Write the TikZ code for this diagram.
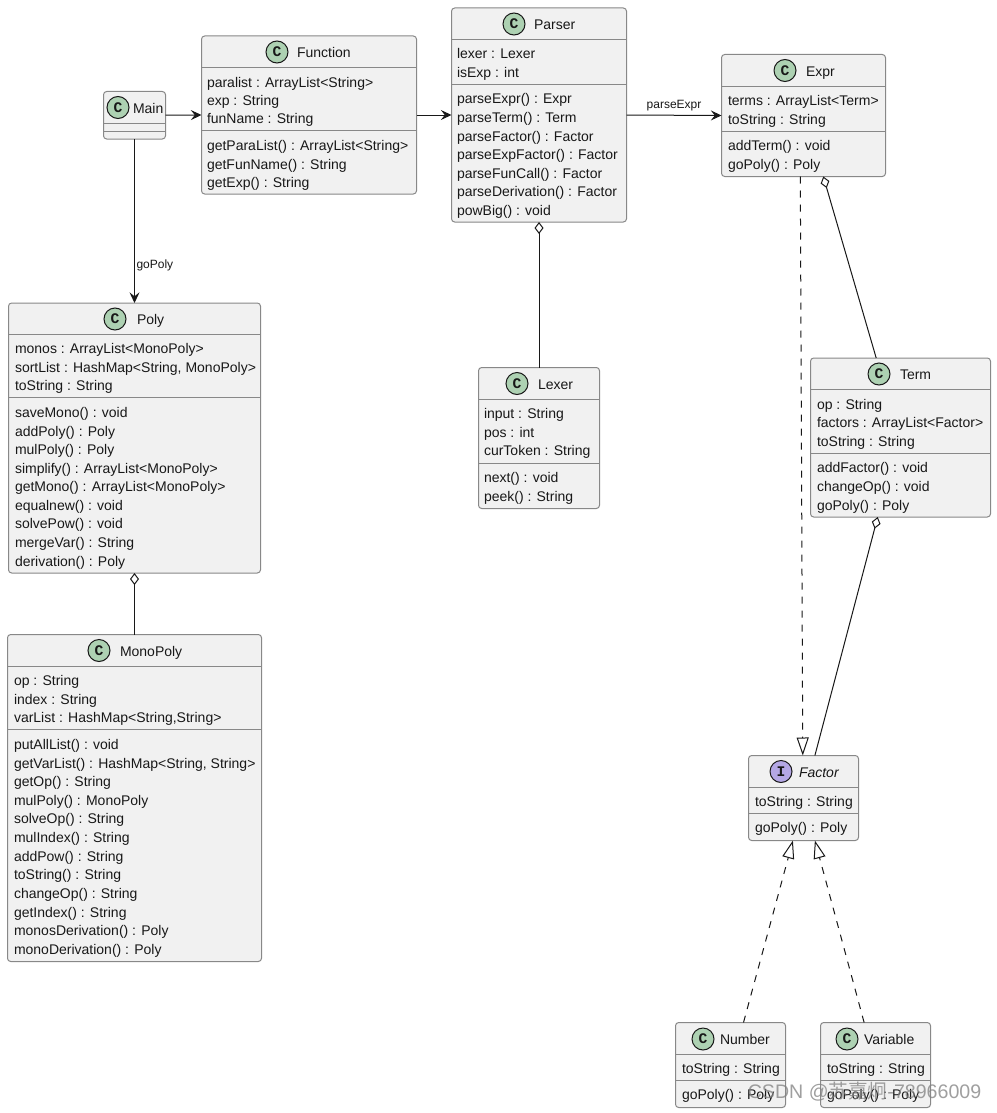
\documentclass[tikz,border=0pt]{standalone}
\usepackage{fontspec}
\setmainfont{Liberation Sans}
\newfontfamily\cjkwm{Noto Sans CJK SC}
\newfontfamily\glyphfont{Liberation Mono}
\usetikzlibrary{positioning}
\usetikzlibrary{arrows.meta}
\definecolor{boxfill}{RGB}{241,241,241}
\definecolor{boxline}{RGB}{136,136,136}
\definecolor{inkline}{RGB}{24,24,24}
\definecolor{classmark}{RGB}{173,209,178}
\definecolor{ifacemark}{RGB}{180,167,229}

\begin{document}
\begin{tikzpicture}[x=0.75pt, y=-0.75pt,
    every node/.style={font=\fontsize{10.5}{12}\selectfont, text=inkline, inner sep=0pt, outer sep=0pt},
    classbox/.style={draw=boxline, fill=boxfill, line width=0.75pt, rounded corners=2.4pt, anchor=north west},
    sepline/.style={draw=boxline, line width=0.75pt},
    badge/.style={circle, draw=inkline, line width=0.75pt, minimum size=16.5pt, font=\glyphfont\bfseries\fontsize{11}{12}\selectfont},
    title/.style={anchor=mid west, yshift=-1.5pt},
    member/.style={anchor=mid west, yshift=-1.5pt},
    edgelabel/.style={font=\fontsize{9}{11}\selectfont},
    link/.style={draw=inkline, line width=0.75pt},
    uses/.style={link, -{Stealth[length=8pt, width=7.5pt, inset=3pt]}},
    holds/.style={link, {Diamond[open, length=9pt, width=6.75pt, fill=white]}-},
    realizes/.style={link, dash pattern=on 5.25pt off 5.25pt, -{Triangle[open, length=13.5pt, width=9pt, fill=white]}}]
    \path[use as bounding box, fill=white] (0, 0) rectangle (996, 1113);

    % boxes: name, corner, size, two rules, badge, title
    \foreach \name/\xa/\ya/\bw/\bh/\sa/\sb/\cx/\cy/\tx/\col/\letter/\ttl in {
        main/103.5/91.5/62/47.5/123.5/131.5/118/107.5/133/classmark/C/Main,
        function/201.5/36/215/158/67.5/130.5/277/52/297/classmark/C/Function,
        parser/451.5/8/175/214/39.5/84.5/514/24/534/classmark/C/Parser,
        expr/721.5/54.5/164/122/86.5/131.5/785/70.5/806/classmark/C/Expr,
        term/810.5/358/180/159/389.5/453.5/879/374/900/classmark/C/Term,
        lexer/478.5/367.5/121/141/399.5/463.5/517/383.5/538/classmark/C/Lexer,
        poly/8.5/303/252/270/334.5/397.5/115/319/137/classmark/C/Poly,
        monopoly/7.5/634.5/254/327/666.5/729.5/99/650.5/120/classmark/C/MonoPoly,
        factor/748.5/755.5/110/85/787.5/813.5/781/771.5/799/ifacemark/I/{\itshape Factor},
        number/675.5/1022.5/110/85/1054.5/1080.5/703/1039/720/classmark/C/Number,
        variable/820.5/1022.5/110/85/1054.5/1080.5/847/1039/864/classmark/C/Variable} {
        \node[classbox, minimum width=\bw*0.75pt, minimum height=\bh*0.75pt] (\name) at (\xa, \ya) {};
        \draw[sepline] (\name.west |- 0, \sa) -- (\name.east |- 0, \sa);
        \draw[sepline] (\name.west |- 0, \sb) -- (\name.east |- 0, \sb);
        \node[badge, fill=\col] (\name-badge) at (\cx, \cy) {\letter};
        \node[title] (\name-title) at (\tx, \cy) {\ttl};
    }

    % members
    \foreach \ty/\txt [count=\n] in {82/paralist : ArrayList<String>, 100/exp : String, 118/funName : String,
        145/getParaList() : ArrayList<String>, 164/getFunName() : String, 182/getExp() : String} {
        \node[member] (function-\n) at (207, \ty) {\txt};
    }
    \foreach \ty/\txt [count=\n] in {53/lexer : Lexer, 72/isExp : int, 98/parseExpr() : Expr, 117/parseTerm() : Term,
        136/parseFactor() : Factor, 154/parseExpFactor() : Factor, 173/parseFunCall() : Factor,
        191/parseDerivation() : Factor, 210/powBig() : void} {
        \node[member] (parser-\n) at (457, \ty) {\txt};
    }
    \foreach \ty/\txt [count=\n] in {100/terms : ArrayList<Term>, 119/toString : String, 145/addTerm() : void, 164/goPoly() : Poly} {
        \node[member] (expr-\n) at (728, \ty) {\txt};
    }
    \foreach \ty/\txt [count=\n] in {404/op : String, 422/factors : ArrayList<Factor>, 441/toString : String,
        467/addFactor() : void, 486/changeOp() : void, 505/goPoly() : Poly} {
        \node[member] (term-\n) at (817, \ty) {\txt};
    }
    \foreach \ty/\txt [count=\n] in {413/input : String, 432/pos : int, 450/curToken : String, 477/next() : void, 496/peek() : String} {
        \node[member] (lexer-\n) at (484, \ty) {\txt};
    }
    \foreach \ty/\txt [count=\n] in {348/monos : ArrayList<MonoPoly>, 367/{sortList : HashMap<String, MonoPoly>}, 385/toString : String,
        412/saveMono() : void, 431/addPoly() : Poly, 449/mulPoly() : Poly, 468/simplify() : ArrayList<MonoPoly>,
        486/getMono() : ArrayList<MonoPoly>, 505/equalnew() : void, 523/solvePow() : void, 542/mergeVar() : String,
        561/derivation() : Poly} {
        \node[member] (poly-\n) at (15, \ty) {\txt};
    }
    \foreach \ty/\txt [count=\n] in {680/op : String, 699/index : String, 717/{varList : HashMap<String,String>},
        744/putAllList() : void, 763/{getVarList() : HashMap<String, String>}, 781/getOp() : String, 800/mulPoly() : MonoPoly,
        818/solveOp() : String, 837/mulIndex() : String, 856/addPow() : String, 874/toString() : String,
        893/changeOp() : String, 912/getIndex() : String, 930/monosDerivation() : Poly, 949/monoDerivation() : Poly} {
        \node[member] (monopoly-\n) at (14, \ty) {\txt};
    }
    \foreach \name/\xa/\tya/\tyb in {factor/755/801/827, number/682/1068/1094, variable/827/1068/1094} {
        \node[member] (\name-1) at (\xa, \tya) {toString : String};
        \node[member] (\name-2) at (\xa, \tyb) {goPoly() : Poly};
    }

    % connectors
    \draw[uses] (main.east) -- (function.west);
    \draw[uses] (function.east) -- (parser.west);
    \draw[uses] (parser.east) -- node[edgelabel, above=3.5pt] (parseexpr-label) {parseExpr} (expr.west);
    \draw[uses] (main.south) -- node[edgelabel, pos=0.77, right=1.5pt] (gopoly-label) {goPoly} (poly.north);
    \draw[holds] (parser.south) -- (lexer.north);
    \draw[holds] (poly.south) -- (monopoly.north);
    \draw[holds] (expr.-72.7) -- (term.107.4);
    \draw[holds] (term.-106.1) -- (factor.75.7);
    \draw[realizes] (expr.-93.75) -- (factor.91.7);
    \draw[realizes] (number.73.5) -- (factor.-104.9);
    \draw[realizes] (variable.105.2) -- (factor.-75.75);

    \node[font=\fontsize{14.7}{18}\selectfont, text=gray, text opacity=0.75, anchor=mid] (watermark) at (864.5, 1095) {CSDN @{\cjkwm 苏嘉炯}-78966009};
\end{tikzpicture}
\end{document}
